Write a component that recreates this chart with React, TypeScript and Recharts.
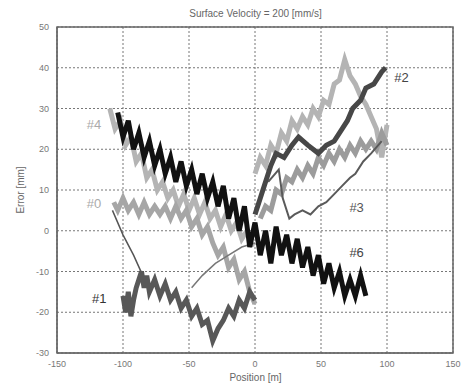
import { LineChart, Line, XAxis, YAxis, CartesianGrid, ReferenceArea, ReferenceDot } from 'recharts'

// Surface velocity run, position [m] vs error [mm]
const xTicks = [-150, -100, -50, 0, 50, 100, 150]
const yTicks = [-30, -20, -10, 0, 10, 20, 30, 40, 50]

// #6 black band
const run6X = [-104, -100, -96, -92, -88, -84, -80, -76, -72, -68, -64, -60, -56, -52, -48, -44, -40, -36, -32, -28, -24, -20, -16, -12, -8, -4, 0, 4, 8, 12, 16, 20, 24, 28, 32, 36, 40, 44, 48, 52, 56, 60, 64, 68, 72, 76, 80, 84]
const run6Y = [29, 23, 27, 20, 24, 18, 22, 16, 20, 14, 18, 12, 17, 11, 15, 9, 14, 8, 12, 6, 11, 3, 8, 0, 6, -4, 2, -6, 0, -8, 1, -6, -1, -8, -2, -9, -4, -11, -6, -13, -8, -14, -10, -16, -12, -16, -11, -16]

// #4 light gray, left leg
const run4aX = [-110, -106, -102, -98, -94, -90, -86, -82, -78, -74, -70, -66, -62, -58, -54, -50, -46, -42, -38, -34, -30, -26, -22, -18, -14, -10, -6, -2]
const run4aY = [30, 25, 27, 21, 23, 17, 19, 13, 15, 10, 12, 8, 10, 6, 9, 5, 8, 4, 7, 3, 5, 1, 4, 0, 2, -2, 0, -4]

// #4 light gray, right leg
const run4bX = [0, 4, 8, 12, 16, 20, 24, 28, 32, 36, 40, 44, 48, 52, 56, 60, 64, 68, 72, 76, 80, 84, 88, 92, 96, 100]
const run4bY = [14, 18, 16, 21, 19, 24, 22, 27, 25, 28, 26, 30, 28, 32, 31, 36, 37, 42, 38, 36, 33, 31, 28, 25, 18, 26]

// #0 gray
const run0X = [-107, -104, -100, -96, -92, -88, -84, -80, -76, -72, -68, -64, -60, -56, -52, -48, -44, -40, -36, -32, -28, -24, -20, -16, -12, -8, -4, 0]
const run0Y = [7, 5, 8, 5, 7, 4, 7, 4, 6, 4, 6, 3, 6, 3, 5, 1, 3, -1, 1, -3, -6, -4, -9, -7, -12, -10, -15, -18]

// unlabeled gray band, right side
const runRX = [4, 8, 12, 16, 20, 24, 28, 32, 36, 40, 44, 48, 52, 56, 60, 64, 68, 72, 76, 80, 84, 88, 92, 96, 100]
const runRY = [3, 6, 5, 10, 9, 13, 12, 15, 13, 16, 14, 18, 16, 19, 17, 20, 18, 21, 19, 22, 20, 22, 20, 24, 21]

// #1 dark gray band
const run1X = [-100, -98, -96, -94, -92, -90, -88, -86, -84, -82, -80, -76, -72, -68, -64, -60, -56, -52, -48, -44, -40, -36, -32, -28, -24, -20, -16, -12, -8, -4, 0]
const run1Y = [-16, -20, -15, -21, -17, -14, -12, -10, -14, -11, -15, -12, -16, -13, -17, -15, -19, -17, -21, -19, -23, -22, -27, -24, -22, -19, -21, -17, -19, -15, -17]

// thin connecting traces
const thinAX = [-108, -100, -92, -85]
const thinAY = [5, -1, -6, -11]
const thinBX = [-48, -40, -30, -20, -10, 0]
const thinBY = [-14, -11, -8, -6, -4, -3]

// #2 dark gray with squares
const run2X = [0, 6, 12, 16, 22, 28, 33, 40, 48, 54, 60, 66, 70, 74, 80, 84, 90, 96, 99]
const run2Y = [4, 10, 16, 19, 18, 21, 23, 21, 19, 21, 22, 25, 27, 30, 32, 35, 36, 39, 40]

// #3 thin trace
const run3X = [10, 18, 21, 26, 30, 36, 42, 48, 54, 60, 66, 72, 76, 82, 88, 96]
const run3Y = [12, 15, 8, 3, 4, 5, 4, 6, 7, 9, 11, 13, 14, 17, 19, 22]

const zip = (xs: number[], ys: number[]) => xs.map((x, i) => ({ x, y: ys[i] }))

const series = [
  { key: 'r4a', data: zip(run4aX, run4aY), color: '#b4b4b4', width: 5 },
  { key: 'r4b', data: zip(run4bX, run4bY), color: '#b4b4b4', width: 5 },
  { key: 'r0', data: zip(run0X, run0Y), color: '#a6a6a6', width: 5 },
  { key: 'rR', data: zip(runRX, runRY), color: '#9c9c9c', width: 5 },
  { key: 'thinA', data: zip(thinAX, thinAY), color: '#555', width: 1.5 },
  { key: 'thinB', data: zip(thinBX, thinBY), color: '#777', width: 1.5 },
  { key: 'r1', data: zip(run1X, run1Y), color: '#585858', width: 5 },
  { key: 'r3', data: zip(run3X, run3Y), color: '#5a5a5a', width: 2 },
  { key: 'r2', data: zip(run2X, run2Y), color: '#474747', width: 5 },
  { key: 'r6', data: zip(run6X, run6Y), color: '#111', width: 5 },
]

const labels = [
  { text: '#4', x: -122, y: 26, color: '#aaa' },
  { text: '#0', x: -122, y: 6.6, color: '#aaa' },
  { text: '#1', x: -118, y: -16.5, color: '#333' },
  { text: '#2', x: 111, y: 37.7, color: '#444' },
  { text: '#3', x: 77, y: 5.7, color: '#555' },
  { text: '#6', x: 77, y: -5.4, color: '#444' },
]

const font = '"Liberation Sans", Arial, sans-serif'

export default function App() {
  return (
    <div style={{ position: 'absolute', left: 0, top: 0, width: 463, height: 391, background: '#fff', fontFamily: font }}>
      <div style={{ position: 'absolute', top: 8, width: 463, left: 24, textAlign: 'center', fontSize: 10, color: '#666' }}>
        Surface Velocity = 200 [mm/s]
      </div>
      <div style={{ position: 'absolute', top: 372, width: 463, left: 24, textAlign: 'center', fontSize: 10, color: '#666' }}>
        Position [m]
      </div>
      <div style={{ position: 'absolute', left: 14, top: 190, fontSize: 10, color: '#666', transform: 'translate(-50%, -50%) rotate(-90deg)', whiteSpace: 'nowrap', marginLeft: 6 }}>
        Error [mm]
      </div>
      <LineChart width={463} height={391} margin={{ top: 27, right: 10, bottom: 18, left: 0 }} style={{ position: 'absolute', left: 0, top: 0 }}>
        <CartesianGrid stroke="#777" strokeDasharray="2 2" />
        <XAxis
          type="number"
          dataKey="x"
          domain={[-150, 150]}
          ticks={xTicks}
          height={20}
          tick={{ fill: '#777', fontSize: 9, fontFamily: font }}
          axisLine={{ stroke: '#666' }}
          tickLine={false}
          allowDataOverflow
        />
        <YAxis
          type="number"
          dataKey="y"
          domain={[-30, 50]}
          ticks={yTicks}
          width={57}
          tick={{ fill: '#777', fontSize: 9, fontFamily: font }}
          axisLine={{ stroke: '#666' }}
          tickLine={false}
          allowDataOverflow
        />
        <ReferenceArea x1={-150} x2={150} y1={-30} y2={50} fill="none" stroke="#666" strokeWidth={1.5} />
        {series.map(s => (
          <Line
            key={s.key}
            data={s.data}
            dataKey="y"
            type="linear"
            stroke={s.color}
            strokeWidth={s.width}
            dot={false}
            isAnimationActive={false}
            strokeLinejoin="miter"
          />
        ))}
        {labels.map(l => (
          <ReferenceDot
            key={l.text}
            x={l.x}
            y={l.y}
            r={0}
            stroke="none"
            label={{ value: l.text, position: 'center', fill: l.color, fontSize: 13, fontFamily: font }}
          />
        ))}
      </LineChart>
    </div>
  )
}
